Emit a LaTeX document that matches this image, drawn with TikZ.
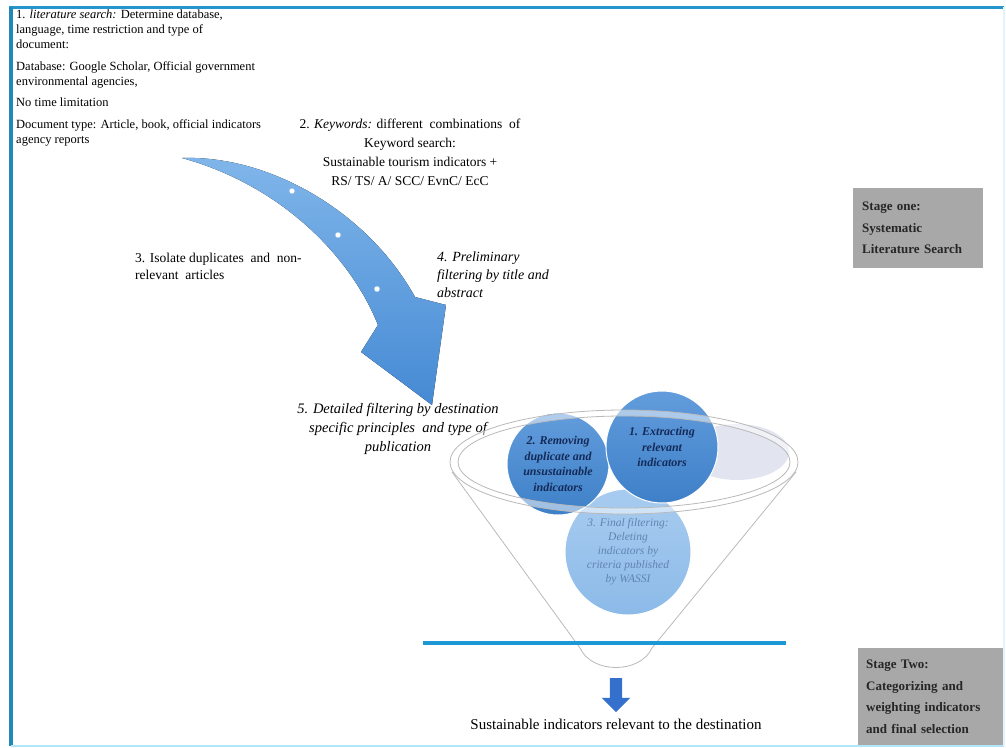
\documentclass[tikz,border=0pt]{standalone}
\usepackage{fontspec}
\setmainfont{Liberation Serif}
\usepackage{tikz}
\usetikzlibrary{arrows.meta,positioning,calc,shapes.arrows}

\definecolor{frameblue}{RGB}{38,150,205}
\definecolor{arrowblue}{RGB}{70,138,212}
\definecolor{arrowlight}{RGB}{128,182,234}
\definecolor{circdark}{RGB}{62,128,200}
\definecolor{circdarklight}{RGB}{98,156,220}
\definecolor{circlight}{RGB}{140,186,232}
\definecolor{circlightlight}{RGB}{168,204,240}
\definecolor{navytext}{RGB}{20,42,88}
\definecolor{finaltext}{RGB}{96,132,178}
\definecolor{palegray}{RGB}{226,229,239}
\definecolor{stagegray}{RGB}{168,168,168}
\definecolor{lineblue}{RGB}{28,152,212}
\definecolor{downblue}{RGB}{52,112,204}

\begin{document}
\begin{tikzpicture}[
  x=1pt,y=-1pt,
  every node/.style={inner sep=0pt},
  txt/.style={align=left,font=\fontsize{12.5}{15}\selectfont},
  kwtxt/.style={align=center,font=\fontsize{13.5}{19}\selectfont},
  steptxt/.style={align=left,font=\fontsize{13.5}{17}\selectfont},
  itxt/.style={align=left,font=\fontsize{14}{18}\selectfont\itshape},
  bubble/.style={circle,draw=white,line width=1pt,align=center},
  darkbubble/.style={bubble,top color=circdarklight,bottom color=circdark,text=navytext,
    font=\fontsize{12}{15.5}\selectfont\bfseries\itshape},
  lightbubble/.style={bubble,top color=circlightlight,bottom color=circlight,text=finaltext,
    font=\fontsize{11.5}{14}\selectfont\itshape},
  ringline/.style={draw=gray!55,line width=0.8pt},
  stagebox/.style={fill=stagegray,align=left,text=black!85,
    font=\fontsize{13}{21.5}\selectfont\bfseries}
]
\useasboundingbox (0,0) rectangle (1006,747);

% frame
\draw[frameblue,line width=3pt] (9,7) -- (1004,7);
\draw[frameblue!90!black,line width=4pt] (11,7) -- (11,746);
\draw[cyan!30,line width=2pt] (11,745.5) -- (1004,745.5);
\draw[cyan!12,line width=1.5pt] (1004,7) -- (1004,746);

% search step texts
\node[txt,anchor=north west] (litsearch) at (16,10)
  {1. \textit{literature search:} Determine database,\\
   language, time restriction and type of\\
   document:\\[7pt]
   Database: Google Scholar, Official government\\
   environmental agencies,\\[6pt]
   No time limitation\\[7pt]
   Document type: Article, book, official indicators\\
   agency reports};
\node[kwtxt] (keywords) at (410,152)
  {2. \textit{Keywords:} different\ \ combinations\ \ of\\
   Keyword search:\\
   Sustainable tourism indicators +\\
   RS/ TS/ A/ SCC/ EvnC/ EcC};
\node[steptxt,anchor=north west] (isolate) at (135,253)
  {3. Isolate duplicates\ \ and\ \ non-\\relevant\ \ articles};
\node[itxt,anchor=north west] (prefilter) at (437,252)
  {4. Preliminary\\filtering by title and\\abstract};
\node[itxt,align=center,font=\fontsize{14.5}{19}\selectfont\itshape] (detfilter) at (398,429)
  {5. Detailed filtering by destination\\
   specific principles\ \ and type of\\
   publication};

% big curved arrow
\fill[top color=arrowlight,bottom color=arrowblue]
  (182,158) .. controls (270,155) and (368,212) .. (415,297)
  -- (446,305) -- (432,405) -- (361,352) -- (378,325)
  .. controls (350,255) and (280,185) .. (182,158) -- cycle;
\foreach \p in {(292,191),(338,235),(377,289)}
  \fill[white,draw=arrowlight,line width=0.6pt] \p circle (3);

% funnel content
\fill[palegray] (737,452) ellipse [x radius=52,y radius=28];
\node[lightbubble,minimum size=126pt] (finalfilter) at (628,552)
  {3. Final filtering:\\Deleting\\indicators by\\criteria published\\by WASSI};
\node[darkbubble,minimum size=102pt] (removing) at (558,464)
  {2. Removing\\duplicate and\\unsustainable\\indicators};
\node[darkbubble,minimum size=112pt] (extracting) at (662,447)
  {1. Extracting\\relevant\\indicators};

% funnel outline
\fill[white,opacity=.5,even odd rule]
  (624,462) ellipse [x radius=174,y radius=52]
  (624,462) ellipse [x radius=166,y radius=46];
\draw[ringline] (624,462) ellipse [x radius=174,y radius=52];
\draw[ringline] (624,462) ellipse [x radius=166,y radius=46];
\draw[ringline] (452,472) -- (580,648)
  .. controls (592,674) and (640,674) .. (652,648) -- (796,472);

% stage two separator
\draw[lineblue,line width=4pt] (423,643) -- (786,643);

% result
\node[single arrow,shape border rotate=270,fill=downblue,inner sep=6pt,
  minimum height=34pt,single arrow head extend=8pt]
  (down) at (616,692) {};
\node[font=\fontsize{15}{17}\selectfont,below=6pt of down] (result)
  {Sustainable indicators relevant to the destination};

% stage labels
\node[stagebox,anchor=north west,text width=112pt,inner sep=9pt,minimum height=80pt]
  (stageone) at (853,188) {Stage one:\\Systematic\\Literature Search};
\node[stagebox,anchor=north west,text width=129pt,inner sep=8pt,minimum height=97pt]
  (stagetwo) at (858,648) {Stage Two:\\Categorizing and\\weighting indicators\\and final selection};
\end{tikzpicture}
\end{document}
